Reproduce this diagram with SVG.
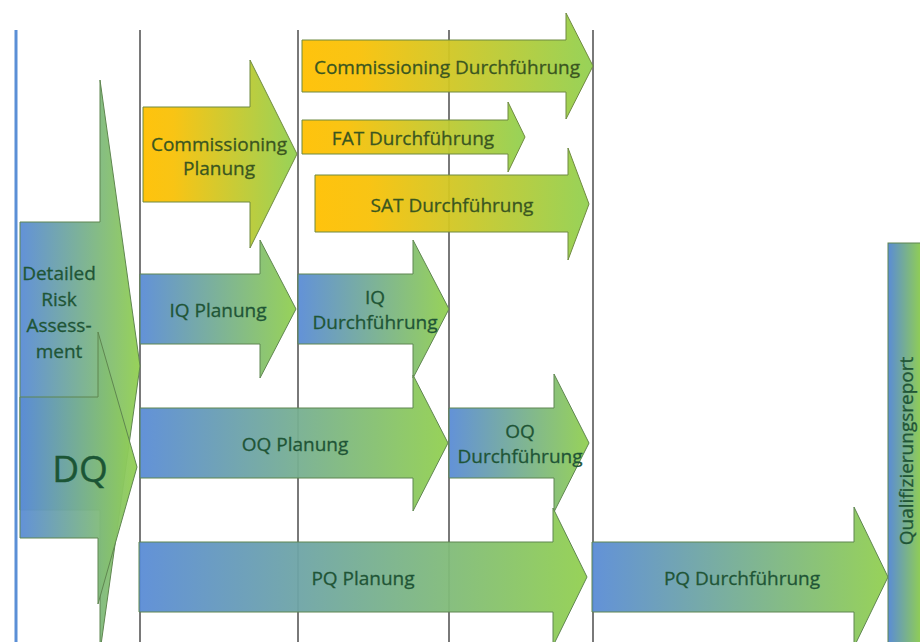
<svg xmlns="http://www.w3.org/2000/svg" width="920" height="642" viewBox="0 0 920 642">
  <defs>
    <linearGradient id="gb" x1="0" y1="0" x2="1" y2="0">
      <stop offset="0" stop-color="#5a8cd6"/>
      <stop offset="1" stop-color="#92d050"/>
    </linearGradient>
    <linearGradient id="go" x1="0" y1="0" x2="1" y2="0">
      <stop offset="0" stop-color="#ffc000"/>
      <stop offset="0.2" stop-color="#f8c108"/>
      <stop offset="1" stop-color="#92d050"/>
    </linearGradient>
    <linearGradient id="gq" gradientUnits="userSpaceOnUse" x1="888" y1="0" x2="922" y2="0">
      <stop offset="0" stop-color="#5a8cd6"/>
      <stop offset="1" stop-color="#92d050"/>
    </linearGradient>
    <style>
      .ln { stroke: #4d4d4d; stroke-width: 1.5; fill: none; }
      .bl { stroke: #5b8fd6; stroke-width: 3; fill: none; }
      .ab { fill: url(#gb); fill-opacity: 0.95; stroke: #5f8650; stroke-width: 1; }
      .ao { fill: url(#go); fill-opacity: 0.95; stroke: #6f8a40; stroke-width: 1; }
      .t { font-family: "Open Sans", "Noto Sans", sans-serif; font-size: 19px; fill: #1f5536; stroke: #1f5536; stroke-width: 0.3; text-anchor: middle; }
      .to { fill: #3a5620; stroke: #3a5620; }
      .dq { font-size: 37px; fill: #1b5535; stroke: #1b5535; stroke-width: 0.4; }
    </style>
  </defs>

  <g id="grid">
    <line class="bl" x1="16" y1="30" x2="16" y2="642"/>
    <line class="ln" x1="140" y1="30" x2="140" y2="642"/>
    <line class="ln" x1="298" y1="30" x2="298" y2="642"/>
    <line class="ln" x1="449" y1="30" x2="449" y2="642"/>
    <line class="ln" x1="593" y1="30" x2="593" y2="642"/>
  </g>

  <g id="connectors"></g>

  <g id="detailed-risk-assessment">
    <path class="ab" d="M20 222 H100 V80 L140 366 L100 652 V510 H20 Z"/>
    <text class="t" x="59" y="280">Detailed</text>
    <text class="t" x="59" y="306">Risk</text>
    <text class="t" x="59" y="332">Assess-</text>
    <text class="t" x="59" y="358">ment</text>
  </g>

  <g id="dq">
    <path class="ab" d="M20 397 H98 V332 L137 467 L98 604 V538 H20 Z"/>
    <text class="t dq" x="80" y="482">DQ</text>
  </g>

  <g id="commissioning-planung">
    <path class="ao" d="M143 107 H250 V60 L297 154 L250 248 V202 H143 Z"/>
    <text class="t to" x="219" y="151">Commissioning</text>
    <text class="t to" x="219" y="175">Planung</text>
  </g>

  <g id="commissioning-durchfuehrung">
    <path class="ao" d="M302 40 H566 V13 L593 66 L566 119 V92 H302 Z"/>
    <text class="t to" x="447" y="74">Commissioning Durchführung</text>
  </g>

  <g id="fat-durchfuehrung">
    <path class="ao" d="M302 120 H508 V102 L525 137 L508 172 V154 H302 Z"/>
    <text class="t to" x="413" y="145">FAT Durchführung</text>
  </g>

  <g id="sat-durchfuehrung">
    <path class="ao" d="M315 175 H568 V148 L589 204 L568 260 V232 H315 Z"/>
    <text class="t to" x="452" y="212">SAT Durchführung</text>
  </g>

  <g id="iq-planung">
    <path class="ab" d="M140 274 H260 V240 L296 309 L260 378 V344 H140 Z"/>
    <text class="t" x="218" y="317">IQ Planung</text>
  </g>

  <g id="iq-durchfuehrung">
    <path class="ab" d="M298 274 H413 V240 L449 309 L413 378 V344 H298 Z"/>
    <text class="t" x="375" y="304">IQ</text>
    <text class="t" x="375" y="329">Durchführung</text>
  </g>

  <g id="oq-planung">
    <path class="ab" d="M140 408 H413 V375 L448 443 L413 511 V478 H140 Z"/>
    <text class="t" x="295" y="451">OQ Planung</text>
  </g>

  <g id="oq-durchfuehrung">
    <path class="ab" d="M449 408 H554 V374 L589 443 L554 512 V478 H449 Z"/>
    <text class="t" x="520" y="438">OQ</text>
    <text class="t" x="520" y="463">Durchführung</text>
  </g>

  <g id="pq-planung">
    <path class="ab" d="M139 542 H553 V508 L587 577 L553 646 V612 H139 Z"/>
    <text class="t" x="363" y="585">PQ Planung</text>
  </g>

  <g id="pq-durchfuehrung">
    <path class="ab" d="M592 542 H854 V507 L888 577 L854 647 V612 H592 Z"/>
    <text class="t" x="742" y="585">PQ Durchführung</text>
  </g>

  <g id="qualifizierungsreport">
    <rect x="888" y="243" width="40" height="410" fill="url(#gq)" stroke="#5f8650" stroke-width="1"/>
    <text class="t" transform="translate(913 451) rotate(-90)">Qualifizierungsreport</text>
  </g>
</svg>
